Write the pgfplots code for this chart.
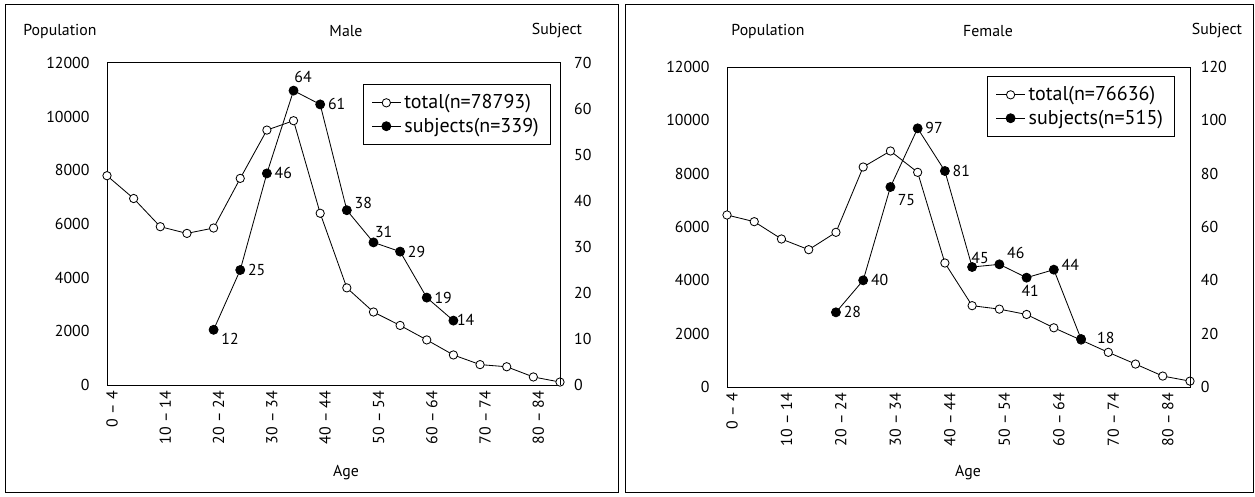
\documentclass[border=0pt]{standalone}
\usepackage{fontspec}
\setmainfont{PT Sans}
\usepackage{pgfplots}
\usepackage{pgfplotstable}
\pgfplotsset{compat=1.18}

% age groups 0-4 ... 85+ are plotted at 0..17
\pgfplotstableread{
x tot
0 7800
1 6950
2 5900
3 5650
4 5850
5 7700
6 9500
7 9850
8 6400
9 3620
10 2720
11 2220
12 1680
13 1120
14 760
15 680
16 300
17 110
}\maletot

\pgfplotstableread{
x s
4 12
5 25
6 46
7 64
8 61
9 38
10 31
11 29
12 19
13 14
}\malesub

\pgfplotstableread{
x tot
0 6450
1 6200
2 5550
3 5150
4 5800
5 8250
6 8850
7 8050
8 4650
9 3050
10 2920
11 2720
12 2220
13 1760
14 1300
15 860
16 410
17 220
}\femtot

\pgfplotstableread{
x s
4 28
5 40
6 75
7 97
8 81
9 45
10 46
11 41
12 44
13 18
}\femsub

\pgfplotsset{
  base/.style={
    scale only axis, anchor=south west,
    xmin=0, xmax=17,
    major tick length=0pt,
    /pgf/number format/assume math mode=true,
    /pgf/number format/1000 sep={},
    axis line style={line width=0.6pt},
  },
  popaxis/.style={
    base,
    ymin=0, ymax=12000, ytick={0,2000,...,12000},
    scaled y ticks=false,
    yticklabel style={xshift=-7pt},
    xtick={0,2,...,16},
    xticklabels={0 -- 4, 10 -- 14, 20 -- 24, 30 -- 34, 40 -- 44, 50 -- 54, 60 -- 64, 70 -- 74, 80 -- 84},
    xticklabel style={rotate=90, anchor=east, yshift=-3pt},
  },
  subaxis/.style={
    base,
    axis y line*=right, axis x line=none,
    legend cell align=left,
    legend style={draw=black, line width=0.6pt, font=\fontsize{12}{14}\selectfont,
      inner xsep=5pt, inner ysep=4pt, row sep=0pt, anchor=north east},
  },
  totline/.style={black, line width=0.5pt, mark=*, mark size=2.5pt, mark options={fill=white, draw=black, line width=0.5pt}},
  subline/.style={black, line width=0.5pt, mark=*, mark size=2.7pt},
  lab/.style={draw=none, mark=none, forget plot,
    nodes near coords, point meta=y,
    every node near coord/.append style={anchor=#1, inner sep=4.5pt, text=black}},
}

\begin{document}
\begin{tikzpicture}[font=\fontsize{9.5}{11}\selectfont]
\path[use as bounding box] (0pt,0pt) rectangle (753pt,297.6pt);
\draw[line width=0.6pt] (3pt,2.4pt) rectangle (370.8pt,294.6pt);
\draw[line width=0.6pt] (375pt,2.4pt) rectangle (751.8pt,294.6pt);

% ---- Male ----
\begin{axis}[popaxis, at={(64.2pt,66.6pt)}, width=271.8pt, height=193.2pt]
\addplot[totline] table[x=x, y=tot] {\maletot};
\end{axis}
\begin{axis}[subaxis, at={(64.2pt,66.6pt)}, width=271.8pt, height=193.2pt,
  ymin=0, ymax=70, ytick={0,10,...,70}, yticklabel style={xshift=5pt},
  legend style={at={(0.98,0.935)}}]
\addlegendimage{totline}
\addlegendentry{total(n=78793)}
\addplot[subline] table[x=x, y=s] {\malesub};
\addlegendentry{subjects(n=339)}
% value labels
\addplot[lab=150] coordinates {(4,12)};
\addplot[lab=180] coordinates {(5,25) (6,46) (8,61) (11,29) (12,19)};
\addplot[lab=185, every node near coord/.append style={inner sep=2pt}] coordinates {(13,14)};
\addplot[lab=235] coordinates {(7,64)};
\addplot[lab=205] coordinates {(9,38)};
\addplot[lab=225, every node near coord/.append style={inner sep=2.5pt}] coordinates {(10,31)};
\end{axis}
\node at (36pt,279pt) {Population};
\node at (207.6pt,279pt) {Male};
\node at (334.2pt,279pt) {Subject};
\node at (207.6pt,13.8pt) {Age};

% ---- Female ----
\begin{axis}[popaxis, at={(436.2pt,65.4pt)}, width=277.8pt, height=192pt]
\addplot[totline] table[x=x, y=tot] {\femtot};
\end{axis}
\begin{axis}[subaxis, at={(436.2pt,65.4pt)}, width=277.8pt, height=192pt,
  ymin=0, ymax=120, ytick={0,20,...,120}, yticklabel style={xshift=3pt},
  legend style={at={(0.968,0.972)}}]
\addlegendimage{totline}
\addlegendentry{total(n=76636)}
\addplot[subline] table[x=x, y=s] {\femsub};
\addlegendentry{subjects(n=515)}
% value labels
\addplot[lab=180] coordinates {(4,28) (5,40) (7,97) (8,81)};
\addplot[lab=195] coordinates {(12,44)};
\addplot[lab=182, every node near coord/.append style={xshift=5pt}] coordinates {(13,18)};
\addplot[lab=140] coordinates {(6,75)};
\addplot[lab=230, every node near coord/.append style={inner sep=2pt}] coordinates {(9,45)};
\addplot[lab=215] coordinates {(10,46)};
\addplot[lab=105] coordinates {(11,41)};
\end{axis}
\node at (460.8pt,279pt) {Population};
\node at (592.8pt,279pt) {Female};
\node at (730.2pt,279pt) {Subject};
\node at (580.8pt,13.8pt) {Age};
\end{tikzpicture}
\end{document}
